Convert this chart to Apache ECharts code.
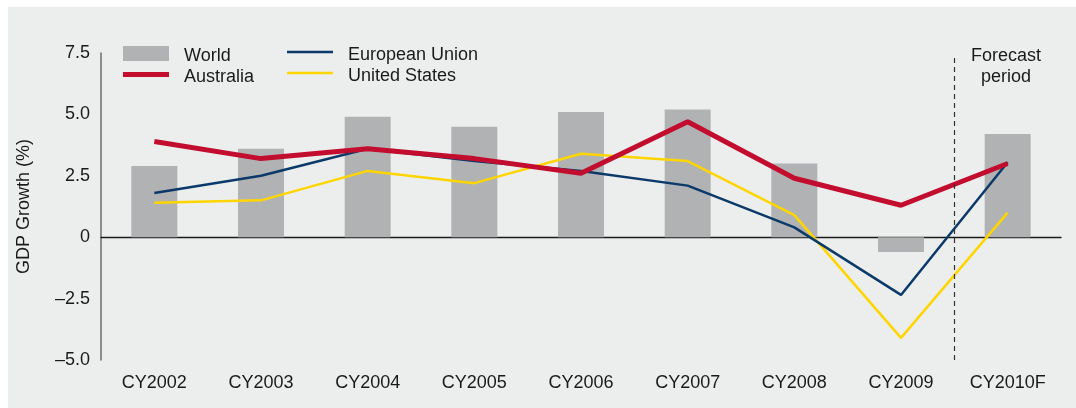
<!DOCTYPE html>
<html>
<head>
<meta charset="utf-8">
<script src="https://cdn.jsdelivr.net/npm/echarts@6/dist/echarts.min.js"></script>
<style>
  html, body { margin: 0; padding: 0; background: #fff; }
  #panel { position: absolute; left: 8px; top: 7px; width: 1068px; height: 401px; background: #eceeed; }
  #chart { position: absolute; left: 0; top: 0; width: 1076px; height: 408px; }
</style>
</head>
<body>
<div id="panel"></div>
<div id="chart"></div>
<script>
const years = ['CY2002', 'CY2003', 'CY2004', 'CY2005', 'CY2006', 'CY2007', 'CY2008', 'CY2009', 'CY2010F'];
const world = [2.9, 3.6, 4.9, 4.5, 5.1, 5.2, 3.0, -0.6, 4.2];
const australia = [3.9, 3.2, 3.6, 3.2, 2.6, 4.7, 2.4, 1.3, 3.0];
const europeanUnion = [1.8, 2.5, 3.6, 3.1, 2.7, 2.1, 0.4, -2.35, 3.05];
const unitedStates = [1.4, 1.5, 2.7, 2.2, 3.4, 3.1, 0.9, -4.1, 1.0];
// forecast starts between CY2009 and CY2010F (boundary index 8)
const forecastStart = 8;

const font = "'Liberation Sans', Arial, sans-serif";
const textColor = '#1a1a1a';
const fontSize = 18;

const chart = echarts.init(document.getElementById('chart'));

function fmt(v) {
  if (v === 0) return '0';
  return v.toFixed(1).replace('-', '\u2013');
}

// rich text so the legend labels sit a little lower than the icons
const legendText = {
  fontSize: fontSize, color: textColor, fontFamily: font,
  rich: {t: {fontSize: fontSize, color: textColor, fontFamily: font, lineHeight: 16, padding: [6, 0, 0, 10]}}
};

const option = {
  backgroundColor: 'transparent',
  animation: false,
  textStyle: {fontFamily: font, color: textColor},
  grid: {left: 101, right: 15, top: 53, bottom: 48},
  legend: [
    {
      left: 123, top: 41.5, orient: 'vertical', padding: 0,
      itemWidth: 46, itemHeight: 15, itemGap: -3,
      textStyle: legendText,
      formatter: '{t|{name}}',
      data: [
        {name: 'World', icon: 'rect'},
        {name: 'Australia', icon: 'path://M0,0L46,0L46,5L0,5Z'}
      ]
    },
    {
      left: 287, top: 40, orient: 'vertical', padding: 0,
      itemWidth: 46, itemHeight: 15, itemGap: -3,
      textStyle: legendText,
      formatter: '{t|{name}}',
      data: [
        {name: 'European Union', icon: 'path://M0,0L46,0L46,2.5L0,2.5Z'},
        {name: 'United States', icon: 'path://M0,0L46,0L46,2.5L0,2.5Z'}
      ]
    }
  ],
  xAxis: [
    {
      type: 'category',
      data: years,
      axisLine: {onZero: false, show: false},
      axisTick: {show: false},
      axisLabel: {fontSize: fontSize, color: textColor, fontFamily: font, margin: 14}
    },
    {
      type: 'category',
      data: years,
      position: 'top',
      axisLine: {onZero: true, lineStyle: {color: '#1a1a1a', width: 1.4}},
      axisTick: {show: false},
      axisLabel: {show: false}
    },
    {
      type: 'value', min: 0, max: years.length, show: false
    }
  ],
  yAxis: {
    type: 'value',
    min: -5, max: 7.5, interval: 2.5,
    offset: 4,
    name: 'GDP Growth (%)',
    nameLocation: 'middle',
    nameGap: 64,
    nameRotate: 90,
    nameTextStyle: {fontSize: fontSize, color: textColor, fontFamily: font},
    axisLine: {show: true, lineStyle: {color: '#6d6d6d', width: 1.5}},
    axisTick: {show: false},
    splitLine: {show: false},
    axisLabel: {fontSize: fontSize, color: textColor, fontFamily: font, margin: 7, formatter: fmt}
  },
  series: [
    {
      name: 'World', type: 'bar', data: world, barWidth: 46,
      itemStyle: {color: '#b1b2b3'}
    },
    {
      name: 'United States', type: 'line', data: unitedStates, symbol: 'none',
      lineStyle: {color: '#ffd500', width: 2.5}, itemStyle: {color: '#ffd500'}
    },
    {
      name: 'European Union', type: 'line', data: europeanUnion, symbol: 'none',
      lineStyle: {color: '#0b3a6a', width: 2.5}, itemStyle: {color: '#0b3a6a'}
    },
    {
      name: 'Australia', type: 'line', data: australia, symbol: 'none',
      lineStyle: {color: '#c30d2e', width: 5}, itemStyle: {color: '#c30d2e'}
    },
    {
      name: 'forecast', type: 'line', xAxisIndex: 2, data: [],
      markLine: {
        silent: true, symbol: 'none', label: {show: false},
        lineStyle: {color: '#333', type: [5, 4], width: 1.2},
        data: [[{coord: [forecastStart, 7.3]}, {coord: [forecastStart, -5]}]]
      }
    }
  ],
  graphic: [
    {
      type: 'text', x: 1006, y: 46,
      style: {
        text: 'Forecast\nperiod', fill: textColor, font: fontSize + 'px ' + font,
        align: 'center', lineHeight: 21
      }
    }
  ]
};

chart.setOption(option);
</script>
</body>
</html>
